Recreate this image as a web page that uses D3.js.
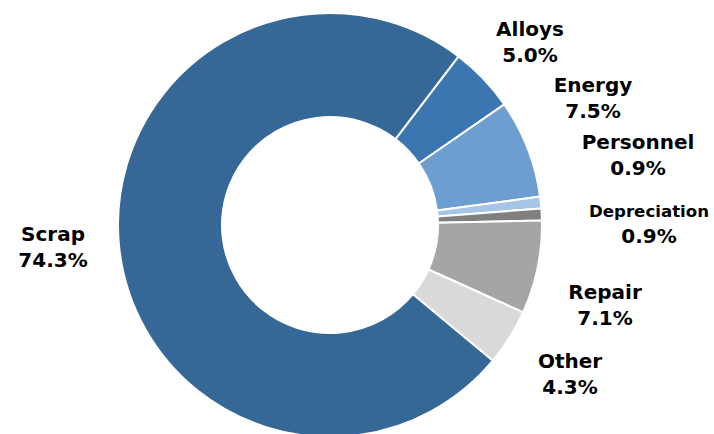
<!DOCTYPE html>
<html>
<head>
<meta charset="utf-8">
<script src="https://cdn.jsdelivr.net/npm/d3@7"></script>
<style>
  html, body { margin: 0; padding: 0; background: #fff; }
  svg { display: block; }
  .lbl { font-family: "DejaVu Sans", Verdana, sans-serif; font-weight: bold; font-size: 20px; fill: #000; }
</style>
</head>
<body>
<svg id="chart" width="714" height="434"></svg>
<script>
// Cost breakdown, clockwise from the Scrap/Alloys boundary
const categories = ["Alloys", "Energy", "Personnel", "Depreciation", "Repair", "Other", "Scrap"];
const shares = [5.0, 7.5, 0.9, 0.9, 7.1, 4.3, 74.3];
const colors = ["#3b76b1", "#6c9fcf", "#a6c4e6", "#7f7f7f", "#a5a5a5", "#d9d9d9", "#356897"];
// Label anchor (centre x, baseline of first line) for each category
const labelPos = [
  [530, 36], [593, 92], [638, 149], [649, 217], [605, 299], [570, 368], [53, 241]
];

const width = 714, height = 434;
const cx = 330, cy = 225, outerR = 212, innerR = 108;
const startDeg = 37.3;
const baseFont = 20;

const svg = d3.select("#chart");
const g = svg.append("g").attr("transform", `translate(${cx},${cy})`);

const pie = d3.pie()
  .sort(null)
  .value(d => d.v)
  .startAngle(startDeg * Math.PI / 180)
  .endAngle((startDeg + 360) * Math.PI / 180);

const data = categories.map((c, i) => ({ c, v: shares[i], i }));
const arcs = pie(data);

const arc = d3.arc().innerRadius(innerR).outerRadius(outerR);

g.selectAll("path.slice")
  .data(arcs)
  .join("path")
  .attr("class", "slice")
  .attr("d", arc)
  .attr("fill", d => colors[d.data.i])
  .attr("stroke", "#fff")
  .attr("stroke-width", 2)
  .attr("stroke-linejoin", "round");

const fmt = d3.format(".1f");
const labels = svg.selectAll("text.lbl")
  .data(data)
  .join("text")
  .attr("class", "lbl")
  .attr("text-anchor", "middle")
  .attr("x", d => labelPos[d.i][0])
  .attr("y", d => labelPos[d.i][1]);

labels.append("tspan").attr("x", d => labelPos[d.i][0]).text(d => d.c);
labels.append("tspan").attr("x", d => labelPos[d.i][0]).attr("dy", 26).text(d => fmt(d.v) + "%");

// Shrink any line that would run past the canvas edge
labels.selectAll("tspan").each(function () {
  const x = +this.getAttribute("x");
  const maxW = 2 * Math.min(x, width - x) - 10;
  const w = this.getComputedTextLength();
  if (w > maxW) {
    d3.select(this).style("font-size", (baseFont * maxW / w).toFixed(2) + "px");
  }
});
</script>
</body>
</html>
